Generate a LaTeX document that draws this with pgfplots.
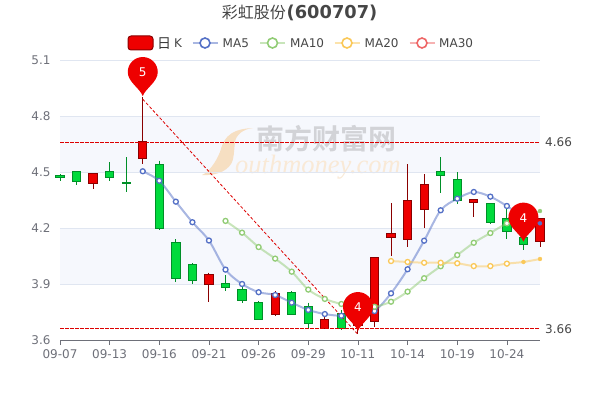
\documentclass[border=0pt]{standalone}
\usepackage{fontspec}
\usepackage{pgfplots}
\pgfplotsset{compat=1.18}
\setmainfont{DejaVu Sans}
\newfontfamily\cjk{Noto Sans CJK SC}
\newfontfamily\cjkb{Noto Sans CJK SC Bold}
\newfontfamily\wmserif{Liberation Serif}[ItalicFont=* Italic]
\definecolor{cred}{HTML}{EE0000}
\definecolor{credb}{HTML}{8A0000}
\definecolor{cgreen}{HTML}{00DA3C}
\definecolor{cgreenb}{HTML}{008F28}
\definecolor{axisgray}{HTML}{6E7079}
\definecolor{gridc}{HTML}{E0E6F1}
\definecolor{band}{HTML}{F6F8FD}
\definecolor{mafive}{HTML}{5470C6}
\definecolor{maten}{HTML}{91CC75}
\definecolor{matwenty}{HTML}{FAC858}
\definecolor{mathirty}{HTML}{EE6666}
\definecolor{titlec}{HTML}{464646}
\definecolor{wmorange}{HTML}{F6DFC2}
\definecolor{wmtext}{HTML}{F9E9D6}
\definecolor{wmgray}{HTML}{D2D3D7}
\definecolor{mline}{HTML}{DD0000}
\pgfdeclareplotmark{pin}{%
  \pgfpathmoveto{\pgfpoint{0pt}{0pt}}%
  \pgfpathcurveto{\pgfpoint{-3pt}{8pt}}{\pgfpoint{-15pt}{14pt}}{\pgfpoint{-15pt}{24pt}}%
  \pgfpatharc{180}{0}{15pt}%
  \pgfpathcurveto{\pgfpoint{15pt}{14pt}}{\pgfpoint{3pt}{8pt}}{\pgfpoint{0pt}{0pt}}%
  \pgfpathclose
  \pgfusepathqfill}
% index, body top, body bottom, high, low, colour
\newcommand{\candle}[6]{%
  \addplot[color=#6b, line width=1pt, forget plot] coordinates {(#1,#4) (#1,#5)};
  \addplot[draw=#6b, fill=#6, line width=1pt, forget plot] coordinates
    {(#1-0.25,#2) (#1+0.25,#2) (#1+0.25,#3) (#1-0.25,#3)} --cycle;
}
\newcommand{\legkey}[2]{%
  \draw[#2, line width=1.6pt, opacity=.5] (#1-12.5,357) -- (#1+12.5,357);
  \draw[#2, line width=1.6pt, fill=white] (#1,357) circle (5);
}
\begin{document}
\begin{tikzpicture}[x=1pt,y=1pt]
\path[use as bounding box] (0,0) rectangle (600,400);
% bands and watermark (picture background)
\fill[band] (60,228) rectangle (540,284);
\fill[band] (60,116) rectangle (540,172);
\fill[wmorange] (253,272) .. controls (243,271) and (236,265) .. (235,258)
  .. controls (234,250) and (234,240) .. (231,236)
  .. controls (226,228) and (214,224) .. (202,225)
  .. controls (209,228) and (216,238) .. (220,248)
  .. controls (223,258) and (226,271) .. (253,272) -- cycle;
\node[text=wmgray, font=\cjkb\fontsize{28}{28}\selectfont, anchor=center, inner sep=0] at (326,261.5) {南方财富网};
\node[text=wmtext, font=\wmserif\itshape\fontsize{26.5}{26.5}\selectfont, anchor=base west, inner sep=0] at (235,227) {outhmoney.com};
% title
\node[anchor=base east, inner sep=0, text=titlec, font=\cjk\fontsize{16}{16}\selectfont] at (286,381) {彩虹股份};
\node[anchor=base west, inner sep=0, text=titlec, font=\bfseries\fontsize{17.8}{17.8}\selectfont] at (286.5,381) {(600707)};
% legend
\draw[credb, fill=cred, line width=1pt, rounded corners=3] (128,350) rectangle (153,364);
\node[anchor=base west, inner sep=0, text=titlec!80!black, font=\cjk\fontsize{14}{14}\selectfont] at (157,352) {日};
\node[anchor=base west, inner sep=0, text=titlec, font=\fontsize{12}{12}\selectfont] at (174,352.5) {K};
\legkey{205}{mafive}
\node[anchor=base west, inner sep=0, text=titlec, font=\fontsize{12}{12}\selectfont] at (222.5,352.5) {MA5};
\legkey{272.5}{maten}
\node[anchor=base west, inner sep=0, text=titlec, font=\fontsize{12}{12}\selectfont] at (290,352.5) {MA10};
\legkey{347}{matwenty}
\node[anchor=base west, inner sep=0, text=titlec, font=\fontsize{12}{12}\selectfont] at (364.5,352.5) {MA20};
\legkey{422}{mathirty}
\node[anchor=base west, inner sep=0, text=titlec, font=\fontsize{12}{12}\selectfont] at (439,352.5) {MA30};
\begin{axis}[
  at={(60pt,60pt)}, anchor=south west,
  scale only axis, width=480pt, height=280pt,
  xmin=0, xmax=29, ymin=3.6, ymax=5.1,
  clip=false,
  axis x line*=bottom, axis y line*=left,
  x axis line style={draw=axisgray, line width=0.8pt, -},
  y axis line style={draw=none},
  xtick={0,3,6,9,12,15,18,21,24,27},
  xticklabels={09-07,09-13,09-16,09-21,09-26,09-29,10-11,10-14,10-19,10-24},
  ytick={3.6,3.9,4.2,4.5,4.8,5.1},
  yticklabel style={/pgf/number format/fixed, /pgf/number format/fixed zerofill, /pgf/number format/precision=1, /pgf/number format/assume math mode=true},
  tick label style={font=\fontsize{12}{12}\selectfont, text=axisgray},
  x tick label style={yshift=-1pt},
  y tick label style={xshift=-1pt},
  tick align=outside,
  xtick style={draw=axisgray, line width=0.8pt},
  major tick length=5pt,
  ytick style={draw=none},
  ymajorgrids, grid style={gridc, line width=0.8pt},
]
\candle{0}{4.482}{4.470}{4.489}{4.452}{cgreen}
\candle{1}{4.502}{4.448}{4.502}{4.432}{cgreen}
\candle{2}{4.491}{4.439}{4.491}{4.411}{cred}
\candle{3}{4.502}{4.470}{4.552}{4.452}{cgreen}
\candle{4}{4.444}{4.439}{4.580}{4.391}{cgreen}
\candle{5}{4.662}{4.570}{4.900}{4.541}{cred}
\candle{6}{4.541}{4.198}{4.561}{4.191}{cgreen}
\candle{7}{4.121}{3.931}{4.139}{3.911}{cgreen}
\candle{8}{4.002}{3.920}{4.011}{3.902}{cgreen}
\candle{9}{3.952}{3.900}{3.961}{3.804}{cred}
\candle{10}{3.902}{3.880}{3.948}{3.861}{cgreen}
\candle{11}{3.872}{3.811}{3.884}{3.800}{cgreen}
\candle{12}{3.802}{3.711}{3.809}{3.711}{cgreen}
\candle{13}{3.850}{3.739}{3.861}{3.729}{cred}
\candle{14}{3.852}{3.739}{3.862}{3.739}{cgreen}
\candle{15}{3.781}{3.689}{3.800}{3.661}{cgreen}
\candle{16}{3.711}{3.661}{3.729}{3.661}{cred}
\candle{17}{3.741}{3.659}{3.761}{3.654}{cgreen}
\candle{18}{3.720}{3.680}{3.750}{3.630}{cred}
\candle{19}{4.043}{3.698}{4.043}{3.671}{cred}
\candle{20}{4.172}{4.148}{4.332}{4.050}{cred}
\candle{21}{4.350}{4.139}{4.541}{4.100}{cred}
\candle{22}{4.432}{4.298}{4.489}{4.200}{cred}
\candle{23}{4.502}{4.480}{4.579}{4.389}{cgreen}
\candle{24}{4.461}{4.350}{4.498}{4.330}{cgreen}
\candle{25}{4.352}{4.338}{4.352}{4.261}{cred}
\candle{26}{4.332}{4.228}{4.332}{4.220}{cgreen}
\candle{27}{4.252}{4.180}{4.302}{4.141}{cgreen}
\candle{28}{4.150}{4.111}{4.200}{4.082}{cgreen}
\candle{29}{4.252}{4.130}{4.252}{4.100}{cred}
% moving averages
\addplot[mafive, line width=2pt, opacity=.5, smooth, tension=0.5, forget plot] coordinates {(5,4.504)(6,4.453)(7,4.341)(8,4.231)(9,4.133)(10,3.977)(11,3.900)(12,3.856)(13,3.841)(14,3.800)(15,3.761)(16,3.739)(17,3.730)(18,3.742)(19,3.755)(20,3.850)(21,3.979)(22,4.132)(23,4.295)(24,4.357)(25,4.393)(26,4.368)(27,4.318)(28,4.259)(29,4.225)};
\addplot[maten, line width=2pt, opacity=.5, smooth, tension=0.5, forget plot] coordinates {(10,4.238)(11,4.175)(12,4.098)(13,4.036)(14,3.966)(15,3.870)(16,3.820)(17,3.793)(18,3.777)(19,3.778)(20,3.805)(21,3.859)(22,3.931)(23,3.995)(24,4.055)(25,4.121)(26,4.173)(27,4.225)(28,4.254)(29,4.291)};
\addplot[matwenty, line width=2pt, opacity=.5, smooth, tension=0.5, forget plot] coordinates {(20,4.023)(21,4.018)(22,4.014)(23,4.014)(24,4.011)(25,3.996)(26,3.996)(27,4.009)(28,4.018)(29,4.034)};
\addplot[only marks, mark=*, mark size=2.5pt, mark options={draw=mafive, fill=white, line width=1.3pt}, forget plot] coordinates {(5,4.504)(6,4.453)(7,4.341)(8,4.231)(9,4.133)(10,3.977)(11,3.900)(12,3.856)(13,3.841)(14,3.800)(15,3.761)(16,3.739)(17,3.730)(18,3.742)(19,3.755)(20,3.850)(21,3.979)(22,4.132)(23,4.295)(24,4.357)(25,4.393)(26,4.368)(27,4.318)(28,4.259)};
\addplot[only marks, mark=*, mark size=2.5pt, mark options={draw=maten, fill=white, line width=1.3pt}, forget plot] coordinates {(10,4.238)(11,4.175)(12,4.098)(13,4.036)(14,3.966)(15,3.870)(16,3.820)(17,3.793)(18,3.777)(19,3.778)(20,3.805)(21,3.859)(22,3.931)(23,3.995)(24,4.055)(25,4.121)(26,4.173)(27,4.225)(28,4.254)};
\addplot[only marks, mark=*, mark size=2.5pt, mark options={draw=matwenty, fill=white, line width=1.3pt}, forget plot] coordinates {(20,4.023)(21,4.018)(22,4.014)(23,4.014)(24,4.011)(25,3.996)(26,3.996)(27,4.009)};
% last points, filled
\addplot[only marks, mark=*, mark size=2pt, mark options={draw=mafive, fill=mafive, line width=0.3pt}, forget plot] coordinates {(29,4.225)};
\addplot[only marks, mark=*, mark size=2pt, mark options={draw=maten, fill=maten, line width=0.3pt}, forget plot] coordinates {(29,4.291)};
\addplot[only marks, mark=*, mark size=2pt, mark options={draw=matwenty, fill=matwenty, line width=0.3pt}, forget plot] coordinates {(28,4.018)(29,4.034)};
% mark lines
\addplot[mline, line width=0.9pt, dash pattern=on 3.5pt off 1.5pt, forget plot] coordinates {(0,4.66)(29,4.66)};
\addplot[mline, line width=0.9pt, dash pattern=on 3.5pt off 1.5pt, forget plot] coordinates {(0,3.66)(29,3.66)};
\addplot[mline, line width=0.8pt, dash pattern=on 3pt off 2pt, forget plot] coordinates {(5,4.89)(18,3.63)};
\node[anchor=west, inner sep=0, text=titlec, font=\fontsize{12}{12}\selectfont] at (axis cs:29,4.66) {\hspace{5pt}4.66};
\node[anchor=west, inner sep=0, text=titlec, font=\fontsize{12}{12}\selectfont] at (axis cs:29,3.66) {\hspace{5pt}3.66};
% pins
\addplot[only marks, mark=pin, color=cred, point meta=explicit symbolic,
  nodes near coords, nodes near coords style={anchor=center, yshift=24pt, text=white, inner sep=0, font=\fontsize{12}{12}\selectfont}, forget plot]
  coordinates {(5,4.907) [5] (18,3.648) [4] (28,4.127) [4]};
\end{axis}
\end{tikzpicture}
\end{document}
